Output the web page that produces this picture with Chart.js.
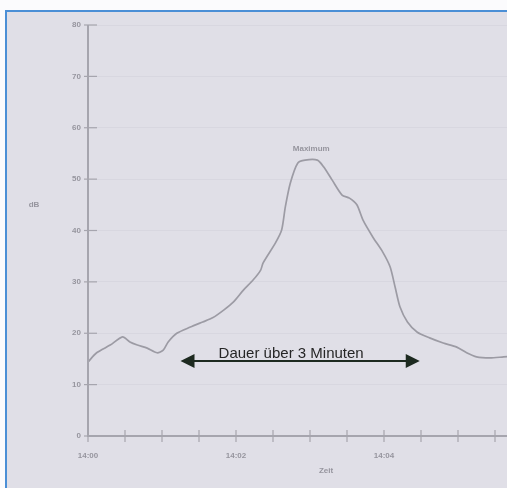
<!DOCTYPE html>
<html>
<head>
<meta charset="utf-8">
<script src="https://cdn.jsdelivr.net/npm/chart.js@4/dist/chart.umd.min.js"></script>
<style>
  html, body { margin:0; padding:0; background:#fbfbfd; overflow:hidden; width:507px; height:488px; }
  #frame { position:absolute; left:5px; top:10px; width:600px; height:600px;
           border-left:2px solid #4b8fd6; border-top:2px solid #4b8fd6; background:#e0dfe7; }
  #wrap { position:absolute; left:0; top:0; width:540px; height:500px; }
</style>
</head>
<body>
<div id="frame"></div>
<div id="wrap"><canvas id="c" width="540" height="500"></canvas></div>
<script>
// time in seconds from start, level
const timeSec = [0, 7, 18, 28, 34, 40, 48, 56, 61, 65, 72, 83, 93, 101, 110, 118, 126, 134, 140, 142,
  152, 157, 160, 164, 170, 176, 186, 191, 198, 206, 212, 218, 223, 231, 239, 245, 249, 253, 259,
  267, 277, 288, 299, 307, 315, 326, 337, 349];
const level = [14.4, 16.2, 17.7, 19.3, 18.3, 17.7, 17.1, 16.2, 16.7, 18.3, 20.0, 21.2, 22.2, 23.0, 24.5,
  26.1, 28.4, 30.4, 32.3, 33.7, 37.6, 40.1, 44.6, 49.2, 53.1, 53.7, 53.7, 52.4, 49.8, 46.9, 46.3,
  45.0, 42.0, 38.7, 35.8, 32.9, 29.0, 25.1, 22.2, 20.2, 19.1, 18.1, 17.3, 16.2, 15.4, 15.2, 15.4, 15.6];

const xLabels = ['14:00', '14:02', '14:04'];   // every 120 s
const yTitle = 'dB';
const xTitle = 'Zeit';
const peakLabel = 'Maximum';

// duration marker
const spanText = 'Dauer über 3 Minuten';
const spanFrom = 75, spanTo = 269, spanLevel = 14.6;

const axisGrey = '#a6a5ae';
const labelGrey = '#96959e';

const decor = {
  id: 'decor',
  afterDraw(chart) {
    const { ctx, scales: { x, y }, chartArea: a } = chart;
    ctx.save();
    // axis lines with crossing tick marks
    ctx.strokeStyle = axisGrey;
    ctx.lineWidth = 2;
    ctx.beginPath();
    ctx.moveTo(a.left, a.top); ctx.lineTo(a.left, a.bottom); ctx.lineTo(a.right, a.bottom);
    ctx.stroke();
    ctx.lineWidth = 1.2;
    x.ticks.forEach(t => {
      const px = x.getPixelForValue(t.value);
      ctx.beginPath(); ctx.moveTo(px, a.bottom - 6); ctx.lineTo(px, a.bottom + 6); ctx.stroke();
    });
    y.ticks.forEach(t => {
      const py = y.getPixelForValue(t.value);
      ctx.beginPath(); ctx.moveTo(a.left - 4, py); ctx.lineTo(a.left + 9, py); ctx.stroke();
    });

    // axis titles
    ctx.fillStyle = labelGrey;
    ctx.font = 'bold 8px "Liberation Sans", Arial, sans-serif';
    ctx.textAlign = 'center';
    ctx.textBaseline = 'middle';
    ctx.fillText(yTitle, 34, y.getPixelForValue(45));
    ctx.fillText(xTitle, x.getPixelForValue(193), a.bottom + 35);

    // label above the maximum
    let iMax = 0;
    level.forEach((v, i) => { if (v > level[iMax]) iMax = i; });
    const mx = (x.getPixelForValue(timeSec[iMax]) + x.getPixelForValue(timeSec[iMax + 1])) / 2;
    ctx.fillText(peakLabel, mx, y.getPixelForValue(level[iMax]) - 11);

    // double arrow with caption
    const x0 = x.getPixelForValue(spanFrom), x1 = x.getPixelForValue(spanTo);
    const ay = y.getPixelForValue(spanLevel);
    ctx.strokeStyle = '#1d2a20';
    ctx.fillStyle = '#1d2a20';
    ctx.lineWidth = 2;
    ctx.beginPath(); ctx.moveTo(x0 + 8, ay); ctx.lineTo(x1 - 8, ay); ctx.stroke();
    ctx.beginPath(); ctx.moveTo(x0, ay); ctx.lineTo(x0 + 14, ay - 7); ctx.lineTo(x0 + 14, ay + 7); ctx.closePath(); ctx.fill();
    ctx.beginPath(); ctx.moveTo(x1, ay); ctx.lineTo(x1 - 14, ay - 7); ctx.lineTo(x1 - 14, ay + 7); ctx.closePath(); ctx.fill();
    ctx.fillStyle = '#262626';
    ctx.font = '15px "Liberation Sans", Arial, sans-serif';
    ctx.textAlign = 'center';
    ctx.textBaseline = 'alphabetic';
    ctx.fillText(spanText, (x0 + x1) / 2 - 9, ay - 3);
    ctx.restore();
  }
};

new Chart(document.getElementById('c'), {
  type: 'line',
  data: {
    datasets: [{
      data: timeSec.map((t, i) => ({ x: t, y: level[i] })),
      borderColor: '#9c9ba4',
      borderWidth: 1.7,
      pointRadius: 0,
      tension: 0.25,
      fill: false
    }]
  },
  options: {
    responsive: false,
    animation: false,
    layout: { padding: { top: 25, right: 8, left: 0, bottom: 0 } },
    plugins: { legend: { display: false }, tooltip: { enabled: false } },
    scales: {
      x: {
        type: 'linear', min: 0, max: 360,
        afterFit: s => { s.height = 64; },
        border: { display: false },
        grid: { display: false },
        ticks: {
          stepSize: 30, autoSkip: false, maxRotation: 0, padding: 7,
          color: labelGrey, font: { size: 8, weight: 'bold', family: '"Liberation Sans", Arial' },
          callback: v => v % 120 === 0 ? xLabels[v / 120] : ''
        }
      },
      y: {
        min: 0, max: 80,
        afterFit: s => { s.width = 88; },
        border: { display: false },
        grid: { color: 'rgba(150,150,162,0.1)', drawTicks: false },
        ticks: {
          stepSize: 10, padding: 7,
          color: labelGrey, font: { size: 8, weight: 'bold', family: '"Liberation Sans", Arial' }
        }
      }
    }
  },
  plugins: [decor]
});
</script>
</body>
</html>
